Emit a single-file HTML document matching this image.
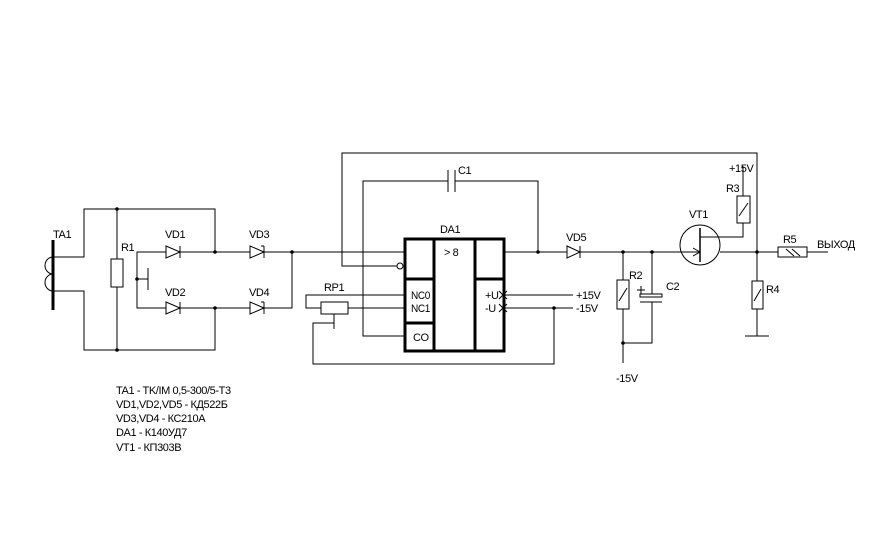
<!DOCTYPE html>
<html><head><meta charset="utf-8"><style>
html,body{margin:0;padding:0;background:#fff;}
svg text{font-family:"Liberation Sans Narrow","Liberation Sans","DejaVu Sans Condensed",sans-serif;font-size:11px;letter-spacing:-0.4px;fill:#000;}
</style></head><body>
<svg width="890" height="548" viewBox="0 0 890 548" xmlns="http://www.w3.org/2000/svg">
<rect width="890" height="548" fill="#fff"/>
<g stroke="#000" stroke-width="1" fill="none">
<line x1="53" y1="240" x2="53" y2="310" stroke-width="3"/>
<path d="M53 257 A8 8.5 0 0 0 53 274 A8 8.5 0 0 0 53 291"/>
<path d="M53 257 H84 V209 H215 V252"/>
<path d="M53 291 H84 V350 H215 V308"/>
<line x1="117" y1="209" x2="117" y2="259"/>
<line x1="117" y1="287" x2="117" y2="350"/>
<rect x="111" y="259" width="12" height="28"/>
<path d="M166 252 H137 V308 H166"/>
<path d="M137 279 H148"/><line x1="148" y1="268" x2="148" y2="290"/>
<line x1="180" y1="252" x2="250" y2="252"/>
<line x1="180" y1="308" x2="250" y2="308"/>
<path d="M264 252 H404"/>
<path d="M264 308 H292 V252"/>
<path d="M166 246 L180 252 L166 258 Z M180 246 V258"/>
<path d="M166 302 L180 308 L166 314 Z M180 302 V314"/>
<path d="M250 246 L264 252 L250 258 Z M264 246 V258 M264 246 H261"/>
<path d="M250 302 L264 308 L250 314 Z M264 302 V314 M264 302 H261"/>
<path d="M397 266 H342 V153 H757 V252"/>
<circle cx="400" cy="266" r="3"/>
<path d="M448 181 H363 V336 H404"/>
<path d="M455 181 H538 V252"/>
<line x1="448" y1="170" x2="448" y2="192"/>
<line x1="455" y1="170" x2="455" y2="192"/>
<g stroke-width="3">
<rect x="405" y="239" width="99" height="112"/>
<line x1="434" y1="239" x2="434" y2="351"/>
<line x1="475" y1="239" x2="475" y2="351"/>
<line x1="405" y1="279" x2="434" y2="279"/>
<line x1="405" y1="323" x2="434" y2="323"/>
<line x1="475" y1="279" x2="504" y2="279"/>
</g>
<path d="M504 252 H567"/>
<path d="M567 246 L580 252 L567 258 Z M580 246 V258"/>
<path d="M580 252 H680"/>
<path d="M720 252 H778 M807 252 H828"/>
<path d="M404 295 H306 V308 H321"/>
<rect x="321" y="302" width="27" height="12"/>
<path d="M348 308 H404"/>
<path d="M334 314 V329 M334 323 H313 V364 H554 V308"/>
<path d="M504 295 H573 M504 308 H573"/>
<path d="M499 291 L507 299 M507 291 L499 299 M499 304 L507 312 M507 304 L499 312"/>
<path d="M623 252 V280 M623 309 V363 M623 343 H652 V302 M652 252 V294"/>
<rect x="617" y="280" width="12" height="29"/>
<line x1="619" y1="301" x2="627" y2="288"/>
<rect x="640" y="294" width="22" height="3"/>
<line x1="640" y1="302" x2="662" y2="302"/>
<line x1="637" y1="290" x2="645" y2="290"/><line x1="641" y1="286" x2="641" y2="294"/>
<circle cx="700" cy="245" r="20"/>
<line x1="700" y1="228" x2="700" y2="262" stroke-width="1.5"/>
<path d="M680 252 H700 M693 248 L700 252 L693 256"/>
<path d="M700 237 H743 V223"/>
<rect x="737" y="196" width="13" height="27"/>
<line x1="739" y1="216" x2="748" y2="203"/>
<line x1="743" y1="196" x2="743" y2="166"/>
<rect x="778" y="247" width="29" height="10"/>
<line x1="786" y1="249" x2="794" y2="256"/><line x1="792" y1="249" x2="800" y2="256"/>
<path d="M757 252 V281 M757 309 V336 M745 336 H769"/>
<rect x="752" y="281" width="11" height="28"/>
<line x1="754" y1="301" x2="761" y2="289"/>
</g>
<g fill="#000">
<circle cx="117" cy="209" r="1.8"/><circle cx="117" cy="350" r="1.8"/>
<circle cx="215" cy="252" r="1.8"/><circle cx="215" cy="308" r="1.8"/>
<circle cx="137" cy="279" r="1.8"/><circle cx="292" cy="252" r="1.8"/>
<circle cx="538" cy="252" r="1.8"/><circle cx="554" cy="308" r="1.8"/>
<circle cx="623" cy="252" r="1.8"/><circle cx="652" cy="252" r="1.8"/>
<circle cx="757" cy="252" r="1.8"/><circle cx="623" cy="343" r="1.8"/>
</g>
<text x="53" y="238">TA1</text>
<text x="121" y="251">R1</text>
<text x="165" y="238">VD1</text>
<text x="249" y="238">VD3</text>
<text x="165" y="296">VD2</text>
<text x="249" y="296">VD4</text>
<text x="458" y="174">C1</text>
<text x="440" y="233">DA1</text>
<text x="444" y="256">&gt; 8</text>
<text x="411" y="299" textLength="19" lengthAdjust="spacingAndGlyphs">NC0</text>
<text x="411" y="312" textLength="19" lengthAdjust="spacingAndGlyphs">NC1</text>
<text x="413" y="341">CO</text>
<text x="485" y="299">+U</text>
<text x="485" y="312">-U</text>
<text x="324" y="291">RP1</text>
<text x="576" y="299">+15V</text>
<text x="576" y="312">-15V</text>
<text x="566" y="241">VD5</text>
<text x="629" y="279">R2</text>
<text x="666" y="290">C2</text>
<text x="616" y="382">-15V</text>
<text x="689" y="218">VT1</text>
<text x="726" y="192">R3</text>
<text x="729" y="172">+15V</text>
<text x="783" y="243">R5</text>
<text x="817" y="248">ВЫХОД</text>
<text x="766" y="293">R4</text>
<text x="116" y="394">TA1 - TK/IM 0,5-300/5-T3</text>
<text x="116" y="408">VD1,VD2,VD5 - КД522Б</text>
<text x="116" y="422">VD3,VD4 - КС210А</text>
<text x="116" y="436">DA1 - К140УД7</text>
<text x="116" y="451">VT1 - КП303В</text>
</svg>
</body></html>
